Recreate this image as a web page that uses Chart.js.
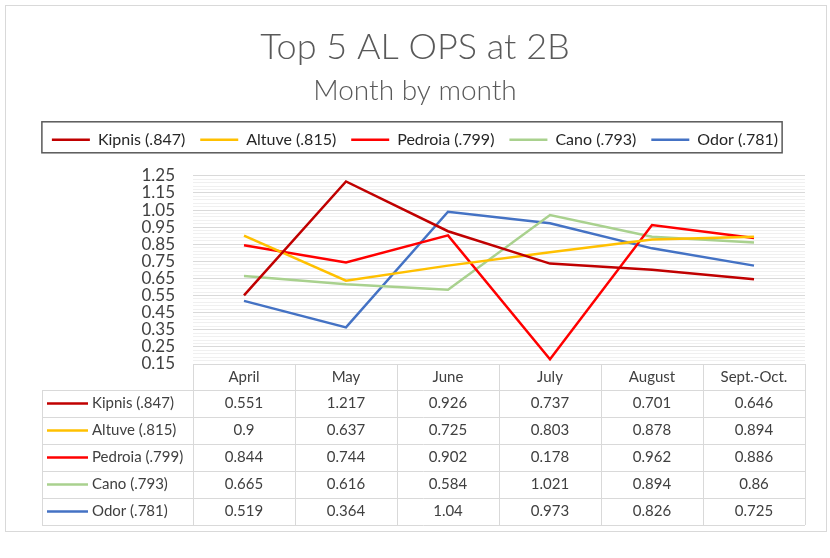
<!DOCTYPE html>
<html>
<head>
<meta charset="utf-8">
<script src="https://cdn.jsdelivr.net/npm/chart.js@4.4.1/dist/chart.umd.min.js"></script>
<style>
    html, body { margin: 0; padding: 0; background: #fff; }
</style>
</head>
<body>
<canvas id="opsChart" width="830" height="558"></canvas>
<script>
const months = ["April", "May", "June", "July", "August", "Sept.-Oct."];
const players = ["Kipnis (.847)", "Altuve (.815)", "Pedroia (.799)", "Cano (.793)", "Odor (.781)"];
const kipnis = [0.551, 1.217, 0.926, 0.737, 0.701, 0.646];
const altuve = [0.9, 0.637, 0.725, 0.803, 0.878, 0.894];
const pedroia = [0.844, 0.744, 0.902, 0.178, 0.962, 0.886];
const cano = [0.665, 0.616, 0.584, 1.021, 0.894, 0.86];
const odor = [0.519, 0.364, 1.04, 0.973, 0.826, 0.725];
const yTickLabels = ["0.15", "0.25", "0.35", "0.45", "0.55", "0.65", "0.75", "0.85", "0.95", "1.05", "1.15", "1.25"];
const colors = ["#C00000", "#FFC000", "#FF0000", "#A9D18E", "#4472C4"];

const series = [kipnis, altuve, pedroia, cano, odor];
const MINOR = 5; // gridline subdivisions per labelled step

// frame, legend border and the data table under the plot
const frameAndTable = {
    id: "frameAndTable",
    beforeDraw(chart) {
        const ctx = chart.ctx;
        ctx.save();
        ctx.fillStyle = "#fff";
        ctx.fillRect(0, 0, chart.width, chart.height);
        ctx.restore();
    },
    afterDraw(chart) {
        const { ctx, chartArea, scales } = chart;
        const x = scales.x;
        ctx.save();

        // outer frame
        ctx.strokeStyle = "#d9d9d9";
        ctx.lineWidth = 1;
        ctx.strokeRect(5.5, 5.5, 821, 526);

        // legend border
        const hb = chart.legend.legendHitBoxes;
        const lgLeft = Math.min(...hb.map(b => b.left)) - 10;
        const lgRight = Math.max(...hb.map(b => b.left + b.width)) + 4;
        ctx.strokeStyle = "#595959";
        ctx.lineWidth = 1.5;
        ctx.strokeRect(lgLeft, chart.legend.top + 5, lgRight - lgLeft, chart.legend.height - 10);

        // data table
        const step = x.getPixelForValue(1) - x.getPixelForValue(0);
        const headTop = chartArea.bottom;
        const headH = 26;
        const rowH = 27;
        const tableLeft = chartArea.left - 151;
        const bodyTop = headTop + headH;
        const tableBottom = bodyTop + rowH * players.length;

        ctx.strokeStyle = "#d9d9d9";
        ctx.lineWidth = 1;
        ctx.beginPath();
        ctx.moveTo(chartArea.left, Math.round(headTop) + 0.5);
        ctx.lineTo(chartArea.right, Math.round(headTop) + 0.5);
        for (let r = 0; r <= players.length; r++) {
            const yy = Math.round(bodyTop + r * rowH) + 0.5;
            ctx.moveTo(tableLeft, yy);
            ctx.lineTo(chartArea.right, yy);
        }
        ctx.moveTo(Math.round(tableLeft) + 0.5, bodyTop);
        ctx.lineTo(Math.round(tableLeft) + 0.5, tableBottom);
        for (let i = 0; i <= months.length; i++) {
            const xx = Math.round(x.getPixelForValue(i) - step / 2) + 0.5;
            ctx.moveTo(xx, headTop);
            ctx.lineTo(xx, tableBottom);
        }
        ctx.stroke();

        ctx.font = "15px Lato";
        ctx.fillStyle = "#404040";
        ctx.textBaseline = "middle";
        ctx.textAlign = "center";
        months.forEach((m, i) => {
            ctx.fillText(m, x.getPixelForValue(i), headTop + headH / 2);
        });
        series.forEach((vals, r) => {
            const cy = bodyTop + r * rowH + rowH / 2;
            vals.forEach((v, i) => {
                ctx.fillText(String(v), x.getPixelForValue(i), cy);
            });
        });

        ctx.textAlign = "left";
        players.forEach((p, r) => {
            const cy = bodyTop + r * rowH + rowH / 2;
            ctx.strokeStyle = colors[r];
            ctx.lineWidth = 2.5;
            ctx.beginPath();
            ctx.moveTo(tableLeft + 5, cy);
            ctx.lineTo(tableLeft + 46, cy);
            ctx.stroke();
            ctx.fillText(p, tableLeft + 50, cy);
        });

        ctx.restore();
    }
};

const ctx = document.getElementById("opsChart");

new Chart(ctx, {
    type: "line",
    data: {
        labels: months,
        datasets: players.map((p, i) => ({
            label: p,
            data: series[i],
            xAxisID: "x",
            yAxisID: "y",
            borderColor: colors[i],
            backgroundColor: colors[i],
            borderWidth: 2.5,
            pointRadius: 0,
            tension: 0
        }))
    },
    options: {
        responsive: false,
        animation: false,
        layout: { padding: 0 },
        plugins: {
            title: {
                display: true,
                text: "Top 5 AL OPS at 2B",
                color: "#595959",
                font: { family: "Lato", size: 36, weight: "300" },
                padding: { top: 26, bottom: 0 }
            },
            subtitle: {
                display: true,
                text: "Month by month",
                color: "#595959",
                font: { family: "Lato", size: 28, weight: "300" },
                padding: { top: 5, bottom: 9 }
            },
            legend: {
                display: true,
                labels: {
                    color: "#262626",
                    font: { family: "Lato", size: 16 },
                    usePointStyle: true,
                    pointStyle: "line",
                    pointStyleWidth: 38,
                    padding: 15
                }
            },
            tooltip: { enabled: false }
        },
        scales: {
            x: {
                offset: true,
                grid: { display: false },
                border: { display: false },
                ticks: { display: false },
                afterFit(s) { s.height = 194; }
            },
            gap: {
                type: "linear",
                axis: "x",
                position: "top",
                grid: { display: false },
                border: { display: false },
                ticks: { display: false },
                afterFit(s) { s.height = 18; }
            },
            edge: {
                type: "linear",
                axis: "y",
                position: "right",
                grid: { display: false },
                border: { display: false },
                ticks: { display: false },
                afterFit(s) { s.width = 25; }
            },
            y: {
                min: parseFloat(yTickLabels[0]),
                max: parseFloat(yTickLabels[yTickLabels.length - 1]),
                afterBuildTicks(s) {
                    const ticks = [];
                    for (let k = 0; k < yTickLabels.length - 1; k++) {
                        const a = parseFloat(yTickLabels[k]);
                        const b = parseFloat(yTickLabels[k + 1]);
                        for (let m = 0; m < MINOR; m++) ticks.push({ value: a + (b - a) * m / MINOR });
                    }
                    ticks.push({ value: parseFloat(yTickLabels[yTickLabels.length - 1]) });
                    s.ticks = ticks;
                },
                afterFit(s) { s.width = 193; },
                border: { display: false },
                grid: {
                    drawTicks: false,
                    color: (c) => (c.index % MINOR === 0 ? "#d9d9d9" : "#f0f0f0"),
                    lineWidth: 1
                },
                ticks: {
                    autoSkip: false,
                    padding: 18,
                    color: "#404040",
                    font: { family: "Lato", size: 17 },
                    callback: (v, i) => (i % MINOR === 0 ? yTickLabels[i / MINOR] : "")
                }
            }
        }
    },
    plugins: [frameAndTable]
});
</script>
</body>
</html>
